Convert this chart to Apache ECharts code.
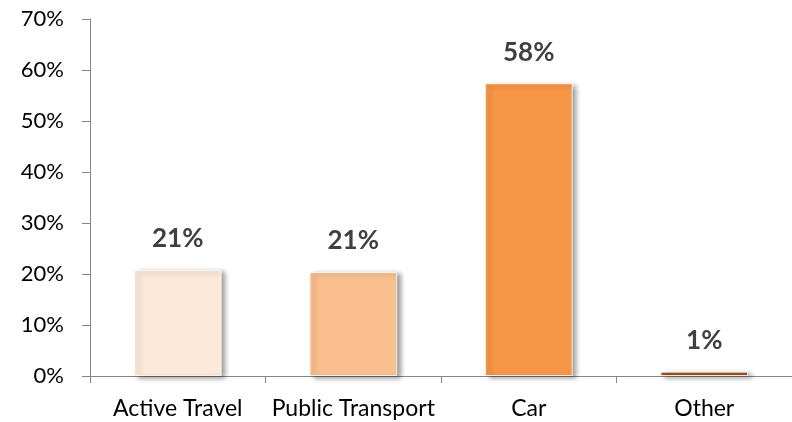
<!DOCTYPE html>
<html>
<head>
<meta charset="utf-8">
<script src="https://cdn.jsdelivr.net/npm/echarts@6/dist/echarts.min.js"></script>
<style>
  html, body { margin: 0; padding: 0; background: #fff; }
  #chart { width: 792px; height: 422px; }
</style>
</head>
<body>
<div id="chart"></div>
<script>
// travel mode shares, percent
const categories = ['Active Travel', 'Public Transport', 'Car', 'Other'];
const values = [20.8, 20.4, 57.4, 0.85];
const labels = ['21%', '21%', '58%', '1%'];
const barColors = ['#FDE9D9', '#FAC090', '#F79646', '#A3520F'];

const chart = echarts.init(document.getElementById('chart'));

const option = {
  animation: false,
  textStyle: { fontFamily: 'Lato' },
  grid: { left: 90, top: 19, width: 710, height: 357 },
  xAxis: {
    type: 'category',
    data: categories,
    axisLine: { lineStyle: { color: '#868686', width: 1 } },
    axisTick: { show: true, interval: 0, length: 7, lineStyle: { color: '#868686' } },
    axisLabel: { interval: 0, color: '#000', fontSize: 23, margin: 21 }
  },
  yAxis: {
    type: 'value',
    min: 0,
    max: 70,
    interval: 10,
    splitLine: { show: false },
    axisLine: { show: true, lineStyle: { color: '#868686', width: 1 } },
    axisTick: { show: true, length: 8, lineStyle: { color: '#868686' } },
    axisLabel: {
      color: '#000',
      fontSize: 22,
      margin: 26,
      formatter: v => v + '%'
    }
  },
  series: [{
    type: 'bar',
    barWidth: '50%',
    data: values.map((v, i) => ({
      value: v,
      itemStyle: { color: barColors[i] }
    })),
    itemStyle: {
      borderColor: 'rgba(255,255,255,0.8)',
      borderWidth: 1,
      shadowColor: 'rgba(0,0,0,0.4)',
      shadowBlur: 5,
      shadowOffsetX: 4,
      shadowOffsetY: 2
    },
    label: {
      show: true,
      position: 'top',
      distance: 18,
      color: '#404040',
      fontWeight: 'bold',
      fontSize: 26,
      formatter: p => labels[p.dataIndex]
    }
  }]
};

chart.setOption(option);
</script>
</body>
</html>
